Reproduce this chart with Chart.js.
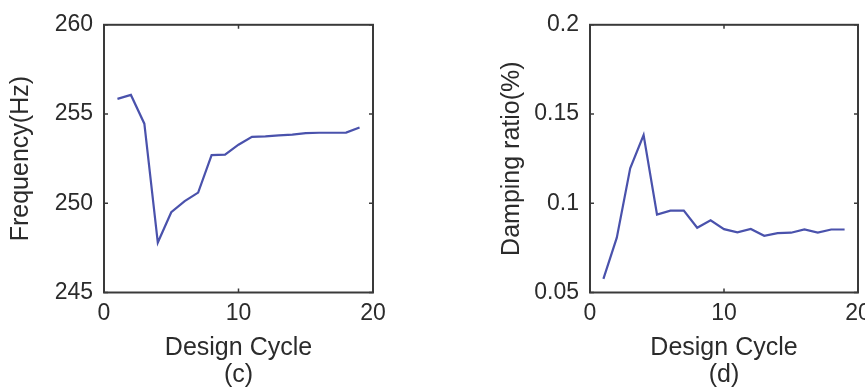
<!DOCTYPE html>
<html>
<head>
<meta charset="utf-8">
<script src="https://cdn.jsdelivr.net/npm/chart.js@4.4.1/dist/chart.umd.min.js"></script>
<style>
  html, body { margin: 0; padding: 0; background: #ffffff; }
  body { width: 865px; height: 390px; position: relative; overflow: hidden; }
  .box { position: absolute; top: 0; height: 390px; }
  #boxC { left: 0; width: 440px; }
  #boxD { left: 440px; width: 470px; }
</style>
</head>
<body>
<div class="box" id="boxC"><canvas id="chartC"></canvas></div>
<div class="box" id="boxD"><canvas id="chartD"></canvas></div>
<script>
// ---- data ----
const designCycles = [1, 2, 3, 4, 5, 6, 7, 8, 9, 10, 11, 12, 13, 14, 15, 16, 17, 18, 19];
const frequencyHz = [255.85, 256.07, 254.46, 247.8, 249.5, 250.12, 250.6, 252.7, 252.72, 253.28, 253.72,
                     253.75, 253.8, 253.85, 253.93, 253.95, 253.95, 253.96, 254.25];
const dampingRatio = [0.0576, 0.0807, 0.1196, 0.1382, 0.0937, 0.0959, 0.0959, 0.0863, 0.0904, 0.0855, 0.0837,
                      0.0856, 0.0818, 0.0833, 0.0835, 0.0853, 0.0836, 0.0853, 0.0853];
const xTicks = [0, 10, 20];
const freqTicks = [245, 250, 255, 260];
const dampTicks = [0.05, 0.1, 0.15, 0.2];
const panelC = { yTitle: 'Frequency(Hz)', xTitle: ['Design Cycle', '(c)'] };
const panelD = { yTitle: 'Damping ratio(%)', xTitle: ['Design Cycle', '(d)'] };

const FONT = 'Liberation Sans, Arial, sans-serif';
const TEXT = '#2b2b2b';
const LINE = '#4a52ac';
const FRAME = '#3a3a3a';

const framePlugin = {
  id: 'frame',
  afterDatasetsDraw(chart) {
    const { ctx, chartArea: a, scales } = chart;
    ctx.save();
    ctx.strokeStyle = FRAME;
    ctx.lineWidth = 2;
    ctx.strokeRect(a.left, a.top, a.right - a.left, a.bottom - a.top);
    ctx.lineWidth = 1.5;
    const tl = 4;
    scales.x.ticks.forEach(t => {
      const px = scales.x.getPixelForValue(t.value);
      ctx.beginPath();
      ctx.moveTo(px, a.bottom); ctx.lineTo(px, a.bottom - tl);
      ctx.moveTo(px, a.top); ctx.lineTo(px, a.top + tl);
      ctx.stroke();
    });
    scales.y.ticks.forEach(t => {
      const py = scales.y.getPixelForValue(t.value);
      ctx.beginPath();
      ctx.moveTo(a.left, py); ctx.lineTo(a.left + tl, py);
      ctx.moveTo(a.right, py); ctx.lineTo(a.right - tl, py);
      ctx.stroke();
    });
    ctx.restore();
  }
};

function makeChart(id, yValues, yTicks, yMin, yMax, panel, geo) {
  const points = designCycles.map((c, i) => ({ x: c, y: yValues[i] }));
  return new Chart(document.getElementById(id), {
    type: 'line',
    data: { datasets: [{ data: points, borderColor: LINE, borderWidth: 2.2, pointRadius: 0, tension: 0, fill: false }] },
    options: {
      responsive: true,
      maintainAspectRatio: false,
      animation: false,
      events: [],
      layout: { padding: { left: 0, top: geo.top, right: geo.right, bottom: 0 } },
      plugins: { legend: { display: false }, tooltip: { enabled: false } },
      scales: {
        x: {
          type: 'linear', min: 0, max: 20,
          afterBuildTicks: s => { s.ticks = xTicks.map(v => ({ value: v })); },
          afterFit: s => { s.height = geo.xHeight; },
          grid: { display: false, drawTicks: false },
          border: { display: false },
          ticks: { color: TEXT, font: { family: FONT, size: 23 }, padding: 7, maxRotation: 0 },
          title: { display: true, text: panel.xTitle, color: TEXT, font: { family: FONT, size: 25, lineHeight: 1.08 }, padding: { top: 0, bottom: 1 } }
        },
        y: {
          type: 'linear', min: yMin, max: yMax,
          afterBuildTicks: s => { s.ticks = yTicks.map(v => ({ value: v })); },
          afterFit: s => { s.width = geo.yWidth; },
          grid: { display: false, drawTicks: false },
          border: { display: false },
          ticks: { color: TEXT, font: { family: FONT, size: 23 }, padding: 11, callback: v => String(v) },
          title: { display: true, text: panel.yTitle, color: TEXT, font: { family: FONT, size: 25, lineHeight: 1.2 }, padding: { top: geo.yTitlePad, bottom: 0 } }
        }
      }
    },
    plugins: [framePlugin]
  });
}

makeChart('chartC', frequencyHz, freqTicks, 245, 260, panelC,
  { top: 22, right: 67, xHeight: 97.5, yWidth: 104, yTitlePad: 6 });
makeChart('chartD', dampingRatio, dampTicks, 0.05, 0.2, panelD,
  { top: 22, right: 52, xHeight: 97.5, yWidth: 150, yTitlePad: 57 });
</script>
</body>
</html>
